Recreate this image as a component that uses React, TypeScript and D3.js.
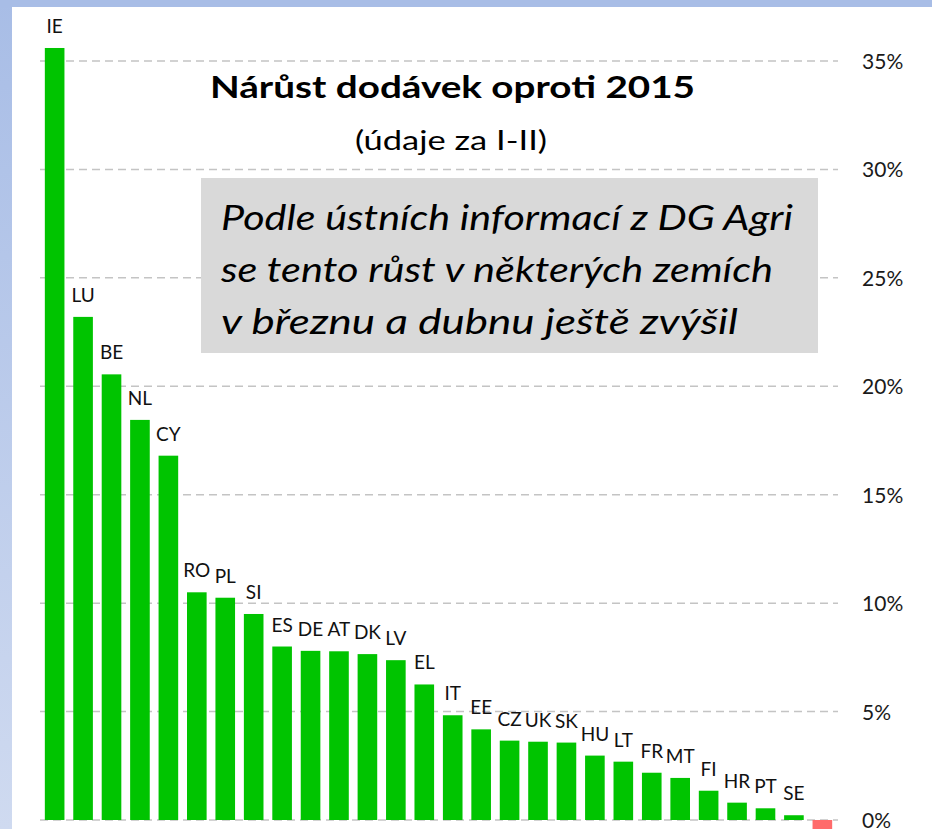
import React from 'react';
import * as d3 from 'd3';

// countries, sorted as in the picture (last one is negative, its label is cut off)
const countries = ['IE', 'LU', 'BE', 'NL', 'CY', 'RO', 'PL', 'SI', 'ES', 'DE', 'AT', 'DK', 'LV', 'EL',
  'IT', 'EE', 'CZ', 'UK', 'SK', 'HU', 'LT', 'FR', 'MT', 'FI', 'HR', 'PT', 'SE', 'BG'];
const growth = [35.6, 23.2, 20.55, 18.45, 16.8, 10.5, 10.25, 9.5, 8.0, 7.8, 7.78, 7.65, 7.37, 6.25,
  4.83, 4.18, 3.66, 3.61, 3.57, 2.97, 2.69, 2.18, 1.94, 1.35, 0.8, 0.54, 0.22, -0.5];
const yTicks = [0, 5, 10, 15, 20, 25, 30, 35];
const noteLines = ['Podle ústních informací z DG Agri', 'se tento růst v některých zemích', 'v březnu a dubnu ještě zvýšil'];
const noteWidths = [572, 552, 517];

const W = 932;
const H = 829;

const xScale = d3.scaleBand<string>()
  .domain(countries)
  .range([40, 837])
  .paddingInner(0.31)
  .paddingOuter(0.17);

const yScale = d3.scaleLinear()
  .domain([0, 35])
  .range([820, 61]);

const FONT = 'Lato, "Open Sans", sans-serif';

export default function App() {
  const bw = xScale.bandwidth();
  return (
    <svg width={W} height={H} style={{ position: 'absolute', left: 0, top: 0 }}>
      <defs>
        <linearGradient id="side" x1="0" y1="0" x2="0" y2="1">
          <stop offset="0" stopColor="#a8bde6" />
          <stop offset="1" stopColor="#cfdaf0" />
        </linearGradient>
      </defs>
      <rect x={0} y={0} width={W} height={H} fill="url(#side)" />
      <rect x={0} y={0} width={W} height={7} fill="#a8bde6" />
      <rect x={12} y={7} width={W - 12} height={H - 7} fill="#ffffff" />

      {/* gridlines */}
      {yTicks.map((t) => (
        <line key={t} x1={40} x2={838} y1={yScale(t)} y2={yScale(t)}
          stroke="#c4c4c4" strokeWidth={1.5} strokeDasharray="8 5" />
      ))}

      {/* tick labels on the right */}
      {yTicks.map((t) => (
        <text key={'l' + t} x={862} y={yScale(t) + 8} fontFamily={FONT} fontSize={21} fill="#1a1a1a">
          {t}%
        </text>
      ))}

      {/* bars */}
      {countries.map((c, i) => {
        const v = growth[i];
        const y0 = yScale(0);
        const y1 = yScale(v);
        return (
          <rect key={c} x={xScale(c)} y={Math.min(y0, y1)} width={bw}
            height={Math.abs(y1 - y0)} fill={v >= 0 ? '#00c400' : '#ff6b6b'} />
        );
      })}

      {/* bar labels */}
      {countries.map((c, i) => growth[i] > 0 ? (
        <text key={'t' + c} x={(xScale(c) ?? 0) + bw / 2} y={yScale(growth[i]) - 15}
          textAnchor="middle" fontFamily={FONT} fontSize={19} fill="#111">
          {c}
        </text>
      ) : null)}

      {/* title */}
      <text x={210} y={98} textLength={485} lengthAdjust="spacingAndGlyphs"
        fontFamily={FONT} fontSize={31} fontWeight="bold" fill="#000">
        Nárůst dodávek oproti 2015
      </text>
      <text x={355} y={150} textLength={192} lengthAdjust="spacingAndGlyphs"
        fontFamily={FONT} fontSize={26} fill="#000">
        (údaje za I-II)
      </text>

      {/* note box */}
      <rect x={201} y={178} width={617} height={175} fill="#d9d9d9" />
      {noteLines.map((s, i) => (
        <text key={s} x={221} y={230 + i * 52} textLength={noteWidths[i]} lengthAdjust="spacingAndGlyphs"
          fontFamily={FONT} fontSize={34} fontStyle="italic" fill="#000">
          {s}
        </text>
      ))}
    </svg>
  );
}
